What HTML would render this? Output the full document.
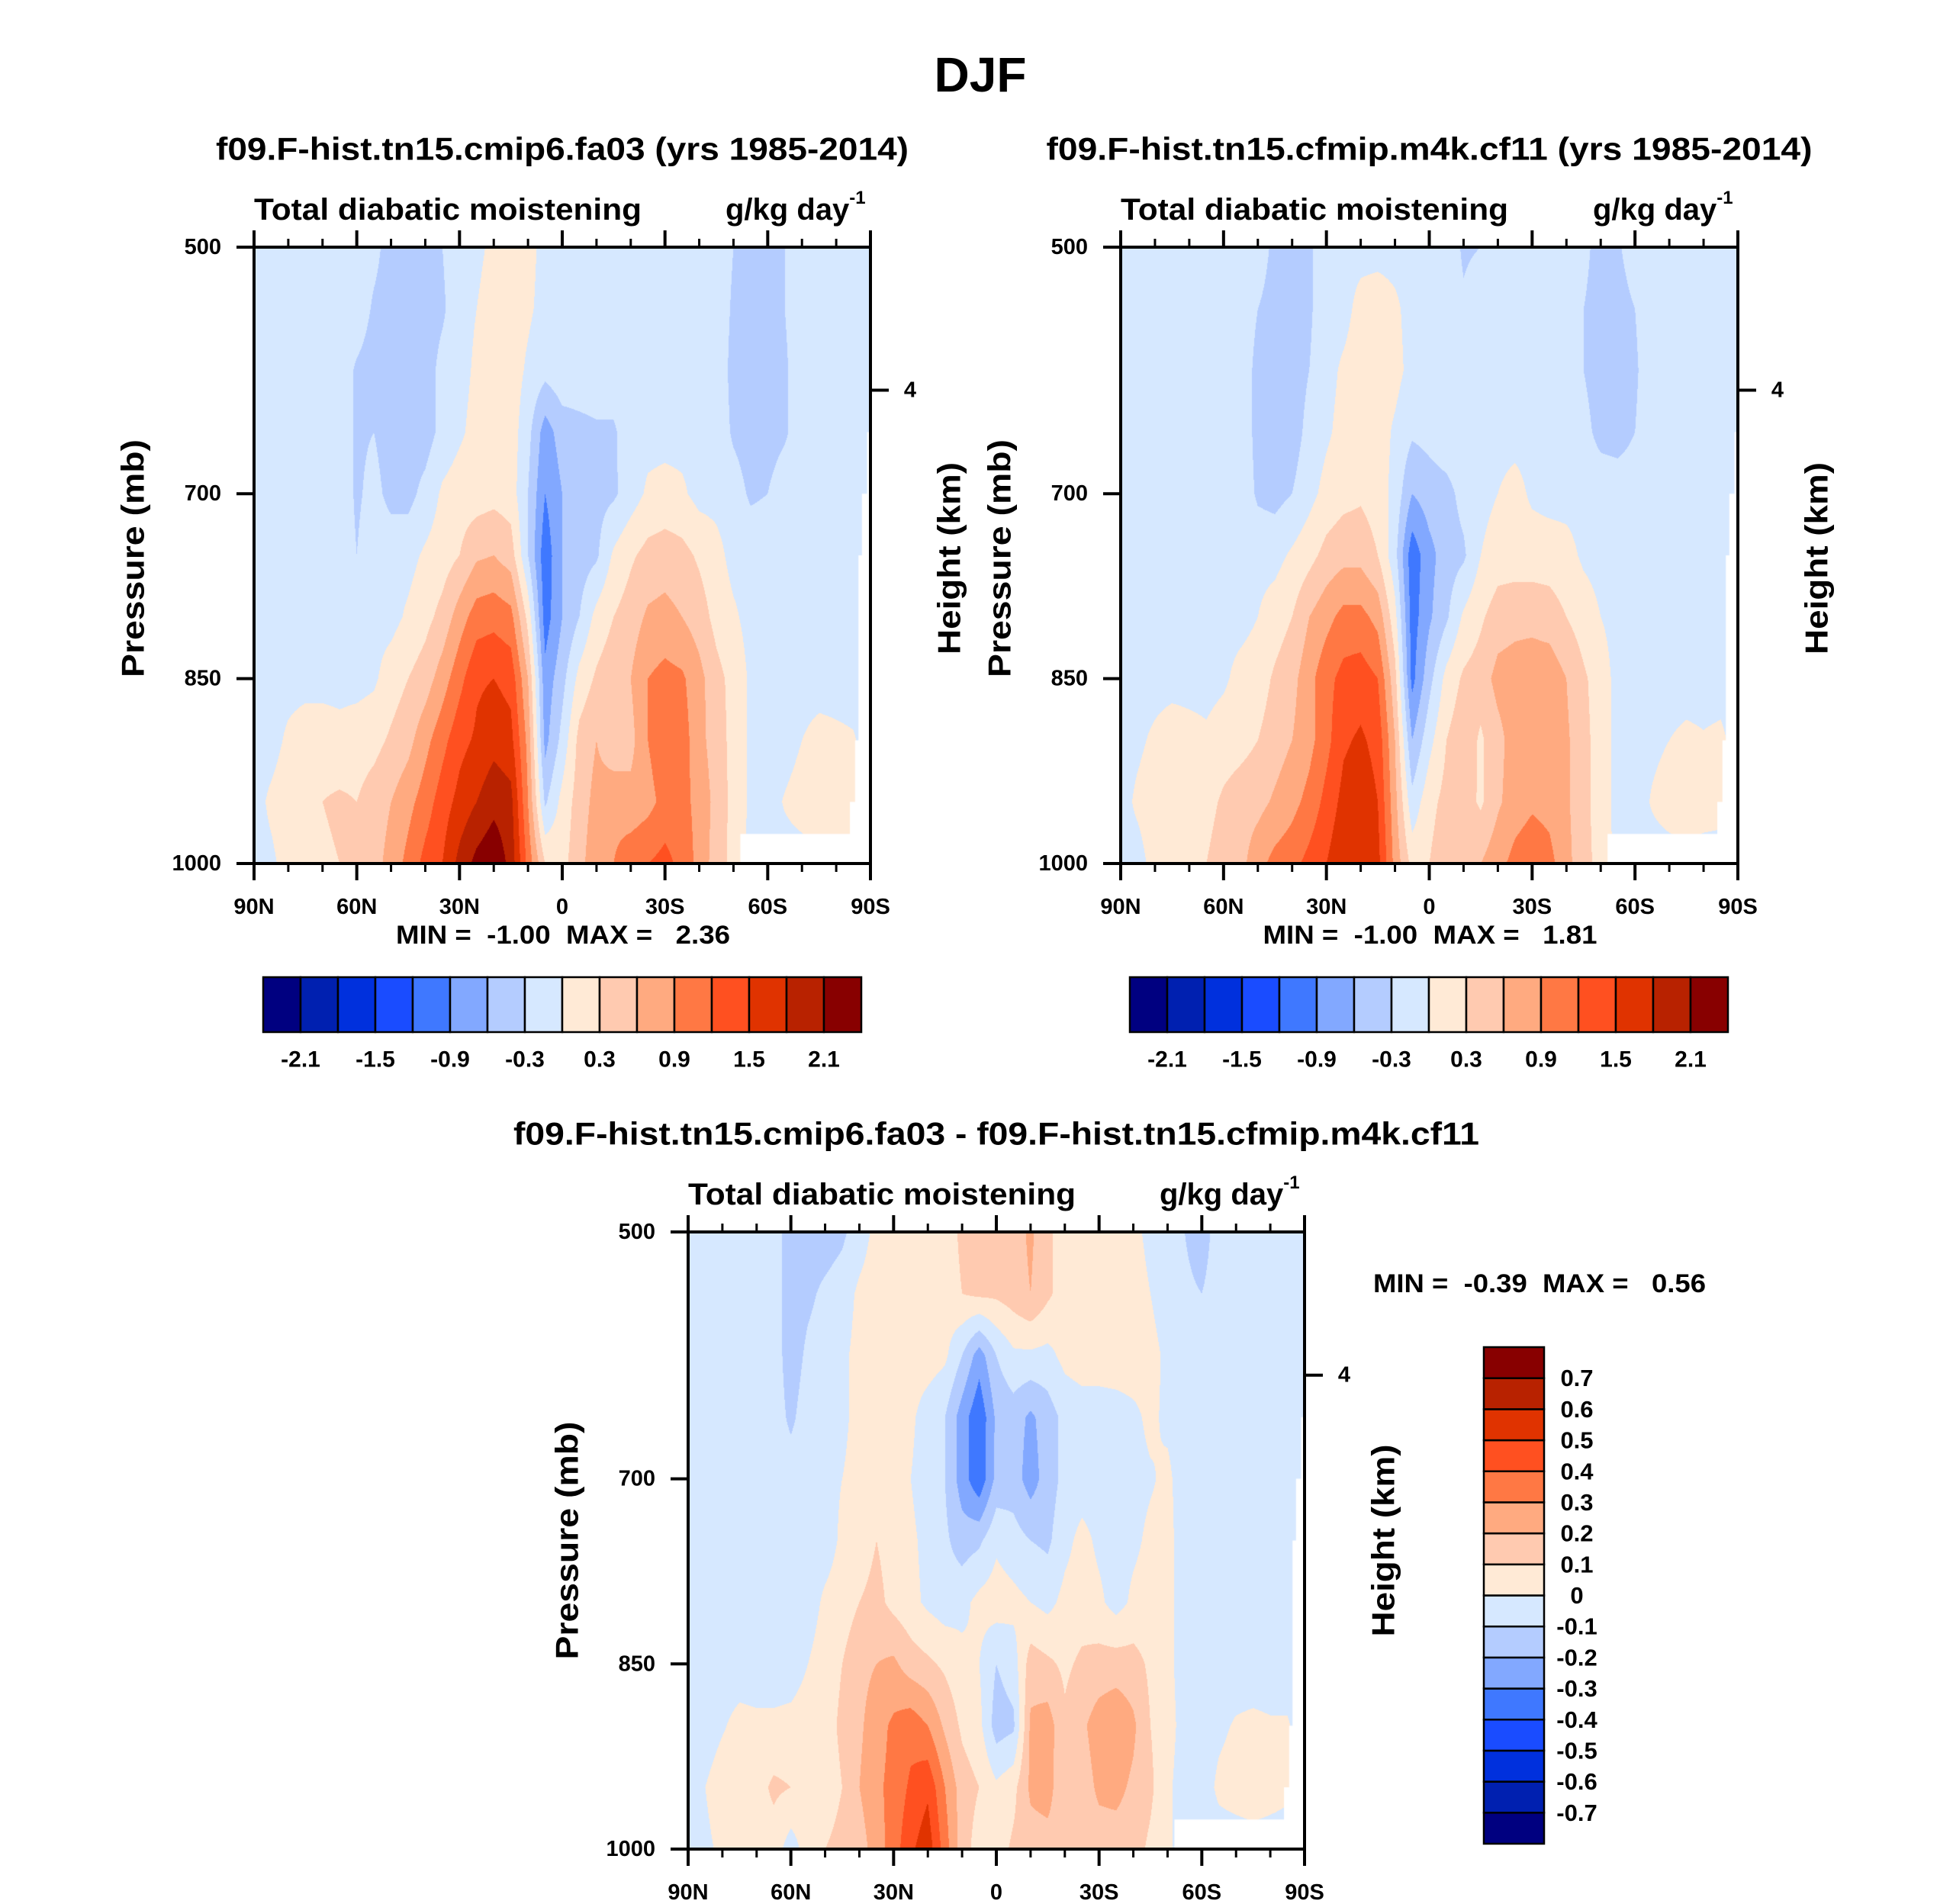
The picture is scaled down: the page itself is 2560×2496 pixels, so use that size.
<!DOCTYPE html>
<html><head><meta charset="utf-8">
<style>
html,body{margin:0;padding:0;background:#fff;}
#root{position:relative;width:2560px;height:2496px;overflow:hidden;background:#fff;font-family:"Liberation Sans",Arial,sans-serif;}
canvas{position:absolute;}
svg{position:absolute;left:0;top:0;}
text{font-family:"Liberation Sans",Arial,sans-serif;font-weight:bold;fill:#000;white-space:pre;}
</style></head>
<body>
<div id="root">
<canvas id="c1" width="808" height="808" style="left:333px;top:324px"></canvas>
<canvas id="c2" width="809" height="808" style="left:1469px;top:324px"></canvas>
<canvas id="c3" width="808" height="809" style="left:902px;top:1615px"></canvas>
<svg id="ov" width="2560" height="2496">
<text x="1285" y="98" font-size="64" text-anchor="middle" dominant-baseline="central">DJF</text>
</svg>
</div>
<script>
// ---- data: latitude columns every 5 deg (90N..90S), pressure rows 500..1000 every 50 mb ----
const latTicks = ["90N","60N","30N","0","30S","60S","90S"];
const presTicks = [500,700,850,1000];
const topLevels = [-2.1,-1.8,-1.5,-1.2,-0.9,-0.6,-0.3,0,0.3,0.6,0.9,1.2,1.5,1.8,2.1];
const topLabels = ["-2.1","-1.5","-0.9","-0.3","0.3","0.9","1.5","2.1"];
const diffLevels = [-0.7,-0.6,-0.5,-0.4,-0.3,-0.2,-0.1,0,0.1,0.2,0.3,0.4,0.5,0.6,0.7];
const diffLabels = ["-0.7","-0.6","-0.5","-0.4","-0.3","-0.2","-0.1","0","0.1","0.2","0.3","0.4","0.5","0.6","0.7"];
const palette = ['#000080','#0020b0','#0030dd','#1a4cff','#3f78ff','#82a8ff','#b4ccff','#d6e8ff','#ffead6','#ffcab0','#ffaa80','#ff7844','#ff5020','#e03300','#b82200','#880000'];

const field1 = [
[-0.1,-0.1,-0.1,-0.1,-0.1,-0.1,-0.1,-0.2,-0.45,-0.45,-0.45,-0.3,-0.1,-0.05,0.05,0.15,0.1,-0.1,-0.1,-0.1,-0.1,-0.1,-0.1,-0.1,-0.1,-0.1,-0.1,-0.1,-0.3,-0.45,-0.45,-0.3,-0.1,-0.1,-0.1,-0.1,-0.1],
[-0.1,-0.1,-0.1,-0.1,-0.1,-0.1,-0.1,-0.35,-0.45,-0.45,-0.45,-0.35,-0.1,0.0,0.1,0.15,0.05,-0.1,-0.05,-0.1,-0.1,-0.1,-0.1,-0.1,-0.1,-0.1,-0.1,-0.1,-0.35,-0.45,-0.45,-0.3,-0.1,-0.1,-0.1,-0.1,-0.1],
[-0.1,-0.1,-0.1,-0.1,-0.1,-0.1,-0.35,-0.45,-0.45,-0.45,-0.45,-0.2,-0.1,0.05,0.15,0.15,-0.05,-0.2,-0.1,-0.1,-0.1,-0.1,-0.1,-0.1,-0.1,-0.1,-0.1,-0.1,-0.4,-0.45,-0.45,-0.35,-0.1,-0.1,-0.1,-0.1,-0.1],
[-0.1,-0.1,-0.1,-0.1,-0.1,-0.1,-0.35,-0.3,-0.45,-0.45,-0.45,-0.2,-0.05,0.1,0.15,0.15,-0.2,-0.75,-0.45,-0.4,-0.35,-0.35,-0.1,-0.1,-0.1,-0.1,-0.1,-0.1,-0.35,-0.45,-0.45,-0.35,-0.1,-0.1,-0.1,-0.1,-0.1],
[-0.1,-0.1,-0.1,-0.1,-0.1,-0.1,-0.35,-0.2,-0.4,-0.4,-0.2,0.05,0.15,0.15,0.2,0.15,-0.3,-0.9,-0.6,-0.45,-0.4,-0.35,-0.15,0.05,0.1,0.05,-0.1,-0.1,-0.15,-0.35,-0.3,-0.1,-0.1,-0.1,-0.1,-0.1,-0.1],
[-0.1,-0.1,-0.1,-0.1,-0.1,-0.1,-0.3,-0.1,-0.1,-0.1,0.05,0.15,0.3,0.55,0.6,0.45,-0.3,-1.1,-0.6,-0.45,-0.35,0.05,0.25,0.4,0.45,0.4,0.25,0.1,-0.1,-0.1,-0.1,-0.1,-0.1,-0.1,-0.1,-0.1,-0.1],
[-0.1,-0.1,-0.1,-0.1,-0.1,-0.1,-0.3,-0.1,-0.1,0.05,0.2,0.4,0.75,1.05,1.1,1.0,0.2,-1.05,-0.6,-0.3,0.1,0.3,0.45,0.65,0.7,0.6,0.45,0.2,0.05,-0.1,-0.1,-0.1,-0.1,-0.1,-0.1,-0.1,-0.1],
[-0.1,-0.1,-0.1,-0.1,-0.1,-0.1,-0.1,-0.05,0.15,0.3,0.45,0.75,1.1,1.45,1.5,1.4,0.6,-0.8,-0.4,0.1,0.35,0.5,0.6,0.9,1.0,0.95,0.7,0.4,0.2,-0.05,-0.1,-0.1,-0.1,-0.1,-0.1,-0.1,-0.1],
[-0.1,-0.1,0.05,0.15,0.15,0.1,0.15,0.2,0.35,0.5,0.8,1.1,1.4,1.55,1.7,1.6,0.8,-0.7,-0.2,0.4,0.6,0.4,0.5,0.9,1.1,1.05,0.7,0.45,0.2,-0.05,-0.1,-0.1,0.0,0.08,0.05,0.02,-0.1],
[-0.1,0.05,0.15,0.2,0.3,0.35,0.3,0.45,0.6,0.8,1.05,1.35,1.6,1.8,2.0,1.9,0.9,-0.35,0.1,0.45,0.7,0.8,0.7,0.8,1.0,1.0,0.8,0.5,0.2,-0.05,-0.1,0.02,0.1,0.2,0.2,0.1,-0.1],
[-0.1,-0.05,0.1,0.2,0.25,0.3,0.35,0.5,0.7,1.0,1.3,1.5,1.9,2.2,2.35,2.0,1.1,0.3,0.2,0.5,0.8,0.9,1.1,1.2,1.3,1.1,0.8,0.45,0.2,-0.1,-0.1,-0.1,-0.1,-0.1,-0.1,-0.1,-0.1]
];
const field2 = [
[-0.1,-0.1,-0.1,-0.1,-0.1,-0.1,-0.1,-0.1,-0.1,-0.4,-0.45,-0.35,-0.1,-0.1,-0.1,-0.1,-0.1,-0.1,-0.1,-0.1,-0.35,-0.3,-0.1,-0.1,-0.1,-0.1,-0.1,-0.2,-0.45,-0.35,-0.1,-0.1,-0.1,-0.1,-0.1,-0.1,-0.1],
[-0.1,-0.1,-0.1,-0.1,-0.1,-0.1,-0.1,-0.1,-0.3,-0.45,-0.45,-0.35,-0.1,-0.1,0.1,0.15,0.05,-0.1,-0.1,-0.1,-0.25,-0.1,-0.1,-0.1,-0.1,-0.1,-0.1,-0.3,-0.45,-0.45,-0.3,-0.1,-0.1,-0.1,-0.1,-0.1,-0.1],
[-0.1,-0.1,-0.1,-0.1,-0.1,-0.1,-0.1,-0.1,-0.4,-0.45,-0.45,-0.3,-0.1,0.05,0.15,0.15,0.1,-0.1,-0.1,-0.1,-0.1,-0.1,-0.1,-0.1,-0.1,-0.1,-0.1,-0.3,-0.45,-0.45,-0.35,-0.1,-0.1,-0.1,-0.1,-0.1,-0.1],
[-0.1,-0.1,-0.1,-0.1,-0.1,-0.1,-0.1,-0.1,-0.4,-0.45,-0.45,-0.2,-0.05,0.1,0.15,0.15,-0.05,-0.25,-0.2,-0.1,-0.1,-0.1,-0.1,-0.1,-0.1,-0.1,-0.1,-0.2,-0.4,-0.45,-0.3,-0.1,-0.1,-0.1,-0.1,-0.1,-0.1],
[-0.1,-0.1,-0.1,-0.1,-0.1,-0.1,-0.1,-0.1,-0.35,-0.4,-0.3,-0.1,0.1,0.2,0.25,0.15,-0.1,-0.6,-0.45,-0.4,-0.2,-0.1,0.0,0.1,-0.05,-0.1,-0.1,-0.1,-0.1,-0.1,-0.1,-0.1,-0.1,-0.1,-0.1,-0.1,-0.1],
[-0.1,-0.1,-0.1,-0.1,-0.1,-0.1,-0.1,-0.1,-0.1,-0.1,0.05,0.2,0.4,0.5,0.5,0.3,-0.2,-1.1,-0.7,-0.45,-0.35,0.0,0.15,0.15,0.15,0.15,0.1,-0.05,-0.1,-0.1,-0.1,-0.1,-0.1,-0.1,-0.1,-0.1,-0.1],
[-0.1,-0.1,-0.1,-0.1,-0.1,-0.1,-0.1,-0.1,0.0,0.15,0.3,0.6,0.8,1.0,1.0,0.8,0.1,-1.05,-0.65,-0.35,0.05,0.25,0.45,0.5,0.5,0.45,0.3,0.15,0.0,-0.1,-0.1,-0.1,-0.1,-0.1,-0.1,-0.1,-0.1],
[-0.1,-0.1,-0.1,-0.1,-0.1,-0.1,-0.05,0.1,0.15,0.35,0.5,0.8,1.1,1.3,1.35,1.2,0.4,-1.0,-0.4,0.1,0.35,0.45,0.7,0.75,0.8,0.8,0.6,0.35,0.15,-0.1,-0.1,-0.1,-0.1,-0.1,-0.1,-0.1,-0.1],
[-0.1,-0.05,0.05,0.15,0.1,0.05,0.15,0.2,0.3,0.45,0.6,0.8,1.1,1.45,1.55,1.4,0.6,-0.6,-0.1,0.3,0.5,0.25,0.5,0.75,0.8,0.8,0.65,0.4,0.15,-0.1,-0.1,-0.05,0.0,0.05,0.02,0.05,-0.1],
[-0.1,0.05,0.15,0.2,0.15,0.2,0.35,0.45,0.5,0.65,0.8,1.0,1.3,1.6,1.7,1.5,0.7,-0.2,0.2,0.4,0.45,0.25,0.55,0.75,0.85,0.8,0.65,0.4,0.15,-0.1,-0.1,0.02,0.1,0.15,0.1,0.08,-0.1],
[-0.1,-0.1,0.1,0.2,0.25,0.3,0.45,0.5,0.8,1.0,1.1,1.3,1.5,1.75,1.8,1.6,0.8,0.2,0.3,0.5,0.6,0.6,0.8,1.0,1.1,1.0,0.7,0.4,0.2,-0.1,-0.1,-0.1,-0.1,-0.1,-0.1,-0.1,-0.1]
];
const field3 = [
[-0.05,-0.05,-0.05,-0.05,-0.05,-0.05,-0.15,-0.15,-0.15,-0.12,-0.05,0.03,0.05,0.05,0.05,0.05,0.12,0.15,0.2,0.15,0.22,0.12,0.05,0.05,0.05,0.05,0.03,-0.03,-0.05,-0.1,-0.15,-0.05,-0.05,-0.05,-0.05,-0.05,-0.05],
[-0.05,-0.05,-0.05,-0.05,-0.05,-0.05,-0.15,-0.12,-0.08,-0.05,0.02,0.05,0.05,0.05,0.05,0.05,0.1,0.12,0.12,0.15,0.2,0.12,0.05,0.05,0.05,0.05,0.05,0.0,-0.05,-0.08,-0.1,-0.05,-0.05,-0.05,-0.05,-0.05,-0.05],
[-0.05,-0.05,-0.05,-0.05,-0.05,-0.05,-0.15,-0.08,-0.05,-0.02,0.03,0.05,0.05,0.05,0.05,0.02,-0.1,-0.25,-0.1,-0.02,-0.02,-0.03,0.03,0.05,0.05,0.05,0.05,0.03,-0.02,-0.05,-0.05,-0.05,-0.05,-0.05,-0.05,-0.05,-0.05],
[-0.05,-0.05,-0.05,-0.05,-0.05,-0.05,-0.12,-0.05,-0.05,-0.02,0.03,0.05,0.05,0.02,-0.05,-0.1,-0.25,-0.38,-0.18,-0.15,-0.22,-0.15,-0.07,-0.05,-0.05,-0.04,-0.02,0.02,-0.02,-0.05,-0.05,-0.05,-0.05,-0.05,-0.05,-0.05,-0.05],
[-0.05,-0.05,-0.05,-0.05,-0.05,-0.05,-0.05,-0.05,-0.03,0.0,0.03,0.05,0.05,0.0,-0.05,-0.1,-0.25,-0.38,-0.17,-0.15,-0.25,-0.15,-0.07,-0.05,-0.05,-0.04,-0.03,-0.01,0.02,-0.05,-0.05,-0.05,-0.05,-0.05,-0.05,-0.05,-0.05],
[-0.05,-0.05,-0.05,-0.05,-0.05,-0.05,-0.05,-0.05,-0.05,0.02,0.05,0.1,0.06,0.02,-0.03,-0.08,-0.15,-0.12,-0.02,-0.06,-0.1,-0.12,-0.03,0.03,-0.02,-0.04,-0.02,0.02,0.03,-0.05,-0.05,-0.05,-0.05,-0.05,-0.05,-0.05,-0.05],
[-0.05,-0.05,-0.05,-0.05,-0.05,-0.05,-0.05,-0.05,0.02,0.05,0.1,0.13,0.07,0.03,-0.02,-0.05,-0.03,0.03,0.05,0.03,0.0,-0.03,0.03,0.05,0.02,-0.04,0.02,0.04,0.03,-0.05,-0.05,-0.05,-0.05,-0.05,-0.05,-0.05,-0.05],
[-0.05,-0.05,-0.05,-0.05,-0.05,-0.05,-0.05,0.0,0.05,0.1,0.17,0.2,0.22,0.15,0.12,0.08,0.03,0.0,-0.1,-0.05,0.15,0.12,0.08,0.12,0.14,0.15,0.14,0.08,0.03,-0.05,-0.05,-0.05,-0.05,-0.05,-0.05,-0.05,-0.05],
[-0.05,-0.05,-0.01,0.03,0.02,0.02,0.03,0.05,0.06,0.12,0.18,0.26,0.32,0.36,0.3,0.18,0.08,0.03,-0.15,-0.12,0.22,0.25,0.12,0.18,0.25,0.28,0.22,0.1,0.04,-0.04,-0.05,-0.02,0.01,0.02,0.01,0.01,-0.05],
[-0.05,0.0,0.05,0.05,0.06,0.12,0.1,0.05,0.05,0.1,0.2,0.28,0.33,0.42,0.48,0.3,0.15,0.1,0.02,0.07,0.22,0.25,0.1,0.15,0.22,0.23,0.18,0.12,0.02,-0.05,-0.05,0.02,0.04,0.06,0.04,0.02,-0.05],
[-0.05,-0.02,0.02,0.05,0.05,0.05,-0.05,0.05,0.1,0.13,0.15,0.25,0.35,0.48,0.56,0.35,0.15,0.05,0.05,0.12,0.15,0.15,0.15,0.15,0.15,0.15,0.14,0.08,0.02,-0.05,-0.05,-0.05,-0.05,-0.05,-0.05,-0.05,-0.05]
];
// missing-data (topography) outline, in (deg from north, mb)
const missingLat = [180,179,179,177.5,177.5,176.5,176.5,175.5,175.5,174,174,142,142,180];
const missingP   = [650,650,700,700,750,750,900,900,950,950,976,976,1000,1000];

function drawField(id, field, levels){
  const cv=document.getElementById(id), ctx=cv.getContext('2d');
  const W=cv.width,H=cv.height, img=ctx.createImageData(W,H);
  const nc=field[0].length-1, nr=field.length-1;
  const rgb=palette.map(c=>[parseInt(c.substr(1,2),16),parseInt(c.substr(3,2),16),parseInt(c.substr(5,2),16)]);
  for(let y=0;y<H;y++){
    const gy=(y+0.5)/H*nr, j=Math.min(Math.floor(gy),nr-1), fy=gy-j;
    for(let x=0;x<W;x++){
      const gx=(x+0.5)/W*nc, i=Math.min(Math.floor(gx),nc-1), fx=gx-i;
      const v=(field[j][i]*(1-fx)+field[j][i+1]*fx)*(1-fy)+(field[j+1][i]*(1-fx)+field[j+1][i+1]*fx)*fy;
      let k=0; while(k<levels.length && v>=levels[k]) k++;
      const c=rgb[k], o=(y*W+x)*4;
      img.data[o]=c[0];img.data[o+1]=c[1];img.data[o+2]=c[2];img.data[o+3]=255;
    }
  }
  ctx.putImageData(img,0,0);
  ctx.fillStyle='#fff'; ctx.beginPath();
  for(let k=0;k<missingLat.length;k++){
    const px=missingLat[k]/180*W, py=(missingP[k]-500)/500*H;
    if(k===0) ctx.moveTo(px,py); else ctx.lineTo(px,py);
  }
  ctx.closePath(); ctx.fill();
}
drawField('c1',field1,topLevels);
drawField('c2',field2,topLevels);
drawField('c3',field3,diffLevels);

const NS='http://www.w3.org/2000/svg', ov=document.getElementById('ov');
function mk(tag,attrs,parent){const e=document.createElementNS(NS,tag);for(const k in attrs)e.setAttribute(k,attrs[k]);(parent||ov).appendChild(e);return e;}
function txt(s,x,y,size,anchor,parent,len){const e=mk('text',{x:x,y:y,'font-size':size,'text-anchor':anchor||'middle','dominant-baseline':'central'},parent);if(len){e.setAttribute('textLength',len);e.setAttribute('lengthAdjust','spacingAndGlyphs');}e.setAttributeNS('http://www.w3.org/XML/1998/namespace','xml:space','preserve');e.textContent=s;return e;}

const panels=[
 {id:'cmip6',x:333,y:324,w:808,h:808,sub:'f09.F-hist.tn15.cmip6.fa03 (yrs 1985-2014)',subLen:908,mm:'MIN =  -1.00  MAX =   2.36'},
 {id:'cfmip',x:1469,y:324,w:809,h:808,sub:'f09.F-hist.tn15.cfmip.m4k.cf11 (yrs 1985-2014)',subLen:1004,mm:'MIN =  -1.00  MAX =   1.81'},
 {id:'diff',x:902,y:1615,w:808,h:809,sub:'f09.F-hist.tn15.cmip6.fa03 - f09.F-hist.tn15.cfmip.m4k.cf11',subLen:1266,mm:'MIN =  -0.39  MAX =   0.56'}
];
panels.forEach(P=>{
  const g=mk('g',{});
  
  
  const xs=d=>P.x+d/180*P.w, ys=p=>P.y+(p-500)/500*P.h;
  const st=txt(P.sub,P.x+P.w/2,P.y-129,42,'middle',g,P.subLen);
  
  
  const lt=txt('Total diabatic moistening',P.x,P.y-49,40,'start',g,508);
  
  
  const ut=mk('text',{x:P.x+P.w-190,y:P.y-49,'font-size':40,'dominant-baseline':'central'},g);
  
  
  ut.textContent='g/kg day';
  const sup=mk('tspan',{'font-size':24,dy:-16},ut); sup.textContent='-1';
  const fr=mk('rect',{x:P.x,y:P.y,width:P.w,height:P.h,fill:'none',stroke:'#000','stroke-width':4},g);
  
  
  for(let d=0;d<=180;d+=10){
    const major=d%30===0, L=major?22:11, X=xs(d);
    const t1=mk('line',{x1:X,x2:X,y1:P.y,y2:P.y-L,stroke:'#000','stroke-width':major?4:3},g);
    
    
    const t2=mk('line',{x1:X,x2:X,y1:P.y+P.h,y2:P.y+P.h+L,stroke:'#000','stroke-width':major?4:3},g);
    
    
  }
  latTicks.forEach((s,k)=>{
    const t=txt(s,xs(k*30),P.y+P.h+57,29,'middle',g);
    
    
  });
  presTicks.forEach(p=>{
    const Y=ys(p);
    const l=mk('line',{x1:P.x,x2:P.x-23,y1:Y,y2:Y,stroke:'#000','stroke-width':4},g);
    
    
    const t=txt(String(p),P.x-43,Y,29,'end',g);
    
    
  });
  const hy=ys(616);
  const hl=mk('line',{x1:P.x+P.w,x2:P.x+P.w+24,y1:hy,y2:hy,stroke:'#000','stroke-width':4},g);
  
  
  const h4=txt('4',P.x+P.w+52,hy,29,'middle',g);
  
  
  const cy=P.y+P.h/2+(P.id==='diff'?0:4);
  const pl=txt('Pressure (mb)',0,0,42,'middle',g,312);
  pl.setAttribute('transform','translate('+(P.x-159)+','+cy+') rotate(-90)');
  
  
  const hk=txt('Height (km)',0,0,42,'middle',g,252);
  hk.setAttribute('transform','translate('+(P.x+P.w+103)+','+cy+') rotate(-90)');
  
  
  let mm;
  if(P.id==='diff'){ mm=txt(P.mm,2018,1683,34,'middle',g,436); }
  else { mm=txt(P.mm,P.x+P.w/2+1,1226,34,'middle',g,438); }
  
  
});

[345,1481].forEach((cx,n)=>{
  const g=mk('g',{});
  
  
  const bw=784/16;
  palette.forEach((c,k)=>{
    const r=mk('rect',{x:cx+k*bw,y:1281,width:bw,height:72,fill:c,stroke:'#000','stroke-width':2.5},g);
    
    
  });
  topLabels.forEach((s,k)=>{
    const t=txt(s,cx+(1+2*k)*bw,1389,30,'middle',g);
    
    
  });
});
(function(){
  const g=mk('g',{});
  
  
  const bh=651/16;
  palette.forEach((c,k)=>{
    const r=mk('rect',{x:1945,y:1766+(15-k)*bh,width:79,height:bh,fill:c,stroke:'#000','stroke-width':2.5},g);
    
    
  });
  diffLabels.forEach((s,k)=>{
    const t=txt(s,2067,1766+(15-k)*bh,31,'middle',g);
    
    
  });
})();
</script>
</body></html>
